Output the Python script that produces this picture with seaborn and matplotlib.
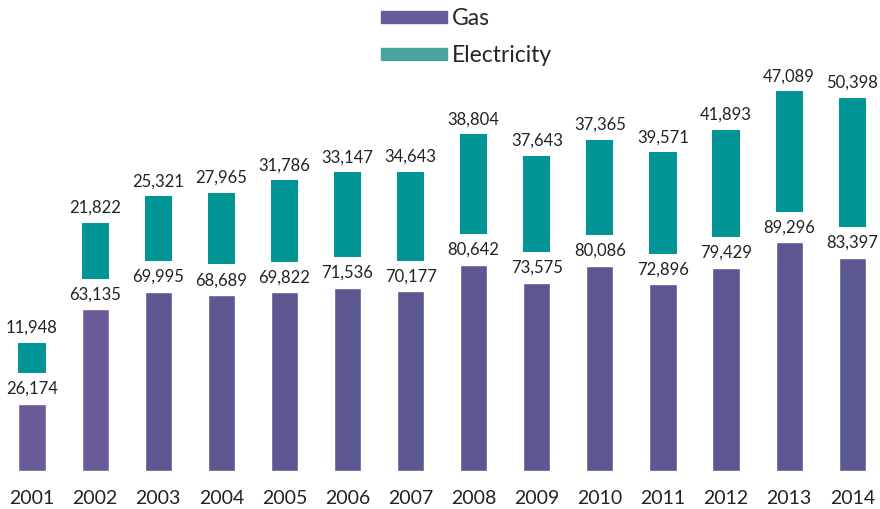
import numpy as np
import pandas as pd
import matplotlib
matplotlib.use("Agg")
import matplotlib.pyplot as plt
import seaborn as sns
from matplotlib.patches import Patch

years = ["2001", "2002", "2003", "2004", "2005", "2006", "2007",
         "2008", "2009", "2010", "2011", "2012", "2013", "2014"]
gas = [26174, 63135, 69995, 68689, 69822, 71536, 70177,
       80642, 73575, 80086, 72896, 79429, 89296, 83397]
electricity = [11948, 21822, 25321, 27965, 31786, 33147, 34643,
               38804, 37643, 37365, 39571, 41893, 47089, 50398]

gas_light = "#6a5b98"
gas_dark = "#5b5891"
elec_col = "#009494"
gap = 12000  # visual gap between the two bars

sns.set_theme(style="white")
plt.rcParams["font.family"] = ["Lato", "DejaVu Sans"]

df = pd.DataFrame({"year": years, "gas": gas, "electricity": electricity})
df["elec_bottom"] = df["gas"] + gap

fig = plt.figure(figsize=(8.8, 5.09), dpi=100)
ax = fig.add_axes([0, 38 / 509, 1, 411 / 509])

pal = [gas_light, gas_light] + [gas_dark] * 12
sns.barplot(data=df, x="year", y="gas", hue="year", palette=pal,
            legend=False, width=0.43, saturation=1, ax=ax)
ax.bar(np.arange(len(years)), df["electricity"], bottom=df["elec_bottom"],
       width=0.43, color=elec_col, linewidth=0)

for i, (g, e) in enumerate(zip(gas, electricity)):
    ax.annotate(f"{g:,}", (i, g), xytext=(0, 5), textcoords="offset points",
                ha="center", va="bottom", fontsize=12, color="#222222")
    ax.annotate(f"{e:,}", (i, g + gap + e), xytext=(0, 5), textcoords="offset points",
                ha="center", va="bottom", fontsize=12, color="#222222")

ax.set_xlim(-0.507, 13.44)
ax.set_ylim(0, 411 / 0.00256)
ax.set_xlabel("")
ax.set_ylabel("")
ax.set_yticks([])
ax.tick_params(axis="x", length=0, pad=14, labelsize=14, colors="#222222")
sns.despine(ax=ax, left=True, bottom=True)

handles = [Patch(color="#6a5b9a", label="Gas"),
           Patch(color="#4aa39a", label="Electricity")]
fig.legend(handles=handles, loc="upper left", bbox_to_anchor=(360 / 880, 1.024),
           frameon=False, fontsize=16.5, handlelength=2.9, handleheight=0.45,
           handletextpad=0.22, labelspacing=0.68)

fig.savefig("out.png", dpi=100)
